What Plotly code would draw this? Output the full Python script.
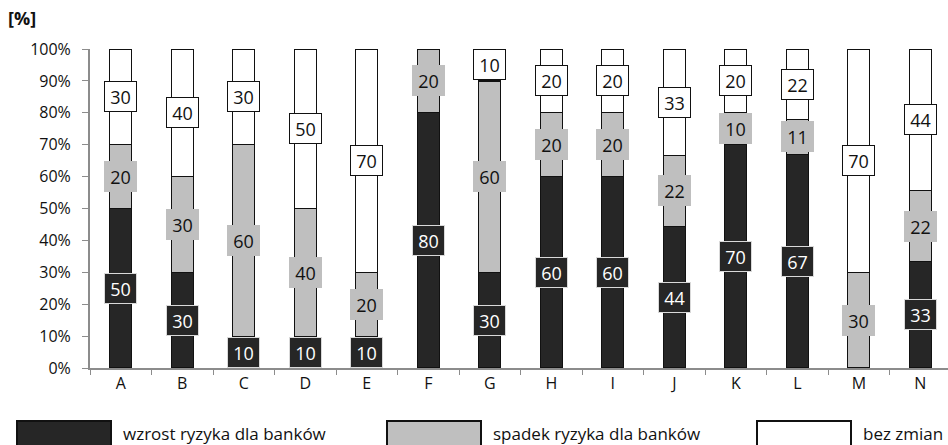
import plotly.graph_objects as go

# Survey answers per category (share of respondents, %)
categories = ["A", "B", "C", "D", "E", "F", "G", "H", "I", "J", "K", "L", "M", "N"]
wzrost = [50, 30, 10, 10, 10, 80, 30, 60, 60, 44, 70, 67, 0, 33]
spadek = [20, 30, 60, 40, 20, 20, 60, 20, 20, 22, 10, 11, 30, 22]
bez_zmian = [30, 40, 30, 50, 70, 0, 10, 20, 20, 33, 20, 22, 70, 44]

series = [
    ("wzrost ryzyka dla banków", wzrost, "#262626", "#ffffff", "#d9d9d9"),
    ("spadek ryzyka dla banków", spadek, "#bfbfbf", "#111111", "#bfbfbf"),
    ("bez zmian", bez_zmian, "#ffffff", "#111111", "#111111"),
]

W, H = 948, 445
L, R, T, B = 90, 0, 49, 77
PW, PH = W - L - R, H - T - B

def px_x(x):
    return (x - L) / PW

def px_y(y):
    return (H - B - y) / PH

FONT = "Open Sans"

fig = go.Figure()
for name, vals, fill, _, _ in series:
    fig.add_trace(go.Bar(
        x=categories, y=vals, name=name, width=0.36,
        marker=dict(color=fill, line=dict(color="#111111", width=1.2)),
        showlegend=False,
    ))

# value boxes centred on each segment (positions on the normalised 100% scale)
annotations = []
for i, cat in enumerate(categories):
    total = sum(s[1][i] for s in series)
    base = 0.0
    for name, vals, fill, tcol, bcol in series:
        v = vals[i]
        share = v / total * 100
        if v > 0:
            annotations.append(dict(
                x=cat, y=base + share / 2, xref="x", yref="y",
                text=str(v), showarrow=False,
                font=dict(family=FONT, size=18, color=tcol),
                width=29, height=27, align="center", valign="middle",
                bgcolor=fill, bordercolor=bcol, borderwidth=1, borderpad=1,
            ))
        base += share

# legend drawn as large swatches with labels
legend_x = [17, 387, 757]
sw_w, sw_top, sw_bot = 94, 421, 448
shapes = []
for (name, vals, fill, _, _), lx in zip(series, legend_x):
    shapes.append(dict(
        type="rect", xref="paper", yref="paper",
        x0=px_x(lx), x1=px_x(lx + sw_w), y0=px_y(sw_bot), y1=px_y(sw_top),
        fillcolor=fill, line=dict(color="#111111", width=2),
    ))
    annotations.append(dict(
        x=px_x(lx + sw_w + 10), y=px_y(433), xref="paper", yref="paper",
        xanchor="left", yanchor="middle", text=name, showarrow=False,
        font=dict(family=FONT, size=17, color="#111111"),
    ))

annotations.append(dict(
    x=px_x(6), y=px_y(18), xref="paper", yref="paper",
    xanchor="left", yanchor="middle", text="<b>[%]</b>", showarrow=False,
    font=dict(family=FONT, size=18, color="#111111"),
))

fig.update_layout(
    width=W, height=H,
    margin=dict(l=L, r=R, t=T, b=B),
    barmode="stack", barnorm="percent",
    plot_bgcolor="#ffffff", paper_bgcolor="#ffffff",
    font=dict(family=FONT, size=16, color="#111111"),
    annotations=annotations, shapes=shapes,
    xaxis=dict(
        type="category", range=[-0.5, 13.45],
        showline=True, linecolor="#8c8c8c", linewidth=2,
        ticks="outside", tickson="boundaries", ticklen=5, tickcolor="#8c8c8c",
        showgrid=False, tickfont=dict(family=FONT, size=16, color="#111111"),
    ),
    yaxis=dict(
        range=[0, 100], dtick=10, ticksuffix="%",
        showline=True, linecolor="#8c8c8c", linewidth=2,
        ticks="outside", ticklen=6, tickcolor="#8c8c8c",
        showgrid=False, zeroline=False, ticklabelstandoff=8,
        tickfont=dict(family=FONT, size=16, color="#111111"),
    ),
)

fig.write_html("out.html")
